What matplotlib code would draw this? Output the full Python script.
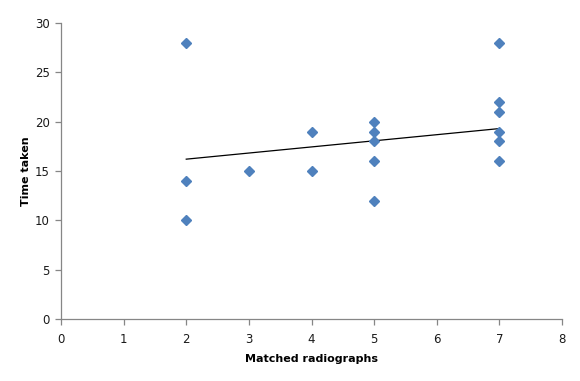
import matplotlib
matplotlib.use("Agg")
import matplotlib.pyplot as plt

# data
matched = [2, 2, 2, 3, 4, 4, 5, 5, 5, 5, 5, 7, 7, 7, 7, 7, 7]
time_taken = [28, 14, 10, 15, 19, 15, 20, 19, 18, 16, 12, 28, 22, 21, 19, 18, 16]

# linear trendline endpoints as shown in the picture
trend_x = [2, 7]
trend_y = [16.2, 19.3]

x_ticks = [0, 1, 2, 3, 4, 5, 6, 7, 8]
y_ticks = [0, 5, 10, 15, 20, 25, 30]

fig = plt.figure(figsize=(5.8, 3.81), dpi=100)
ax = fig.add_axes([61 / 580, 62 / 381, 501 / 580, 296 / 381])

ax.plot(matched, time_taken, linestyle='none', marker='D', markersize=5.5,
        color='#4F81BD', markeredgecolor='#4F81BD', zorder=3)
ax.plot(trend_x, trend_y, color='black', linewidth=0.9, zorder=2)

ax.set_xlim(0, 8)
ax.set_ylim(0, 30)
ax.set_xticks(x_ticks)
ax.set_yticks(y_ticks)

for side in ['top', 'right']:
    ax.spines[side].set_visible(False)
for side in ['left', 'bottom']:
    ax.spines[side].set_color('#868686')
    ax.spines[side].set_linewidth(0.9)

ax.tick_params(axis='both', direction='out', length=4, width=0.9,
               color='#868686', labelsize=8.5, labelcolor='#1a1a1a')
ax.tick_params(axis='x', pad=6)
ax.tick_params(axis='y', pad=4)

ax.set_xlabel('Matched radiographs', fontsize=8, fontweight='bold', labelpad=6)
ax.set_ylabel('Time taken', fontsize=8, fontweight='bold', labelpad=3)

fig.savefig('out.png', dpi=100)
plt.close(fig)
